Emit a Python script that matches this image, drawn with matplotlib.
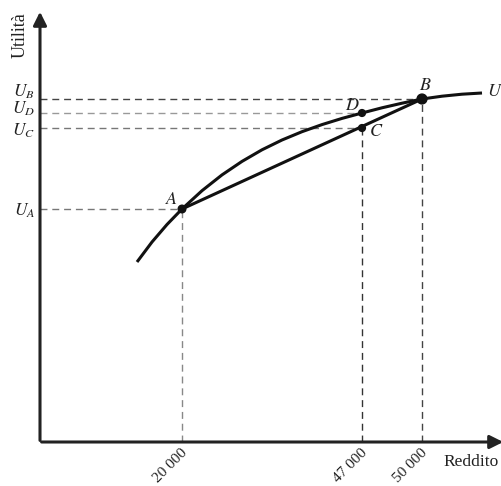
import matplotlib.pyplot as plt

plt.rcParams['mathtext.fontset'] = 'stix'
plt.rcParams['font.family'] = ['Liberation Serif', 'DejaVu Serif']

# Utility curve U (schematic units)
curve_x = [97, 112, 127, 142, 162, 182, 202, 222, 242, 262, 282, 302, 322,
           342, 362, 382, 402, 422, 442]
curve_y = [180, 200, 217.5, 233, 251.3, 267.1, 280.6, 292.2, 302.0, 310.3, 317.4, 323.6, 329,
           334.2, 338.8, 343, 345.8, 347.8, 349]

# Named points
pt_names = ['A', 'B', 'C', 'D']
pt_x = [142, 382, 322, 322]
pt_y = [233, 343, 314, 329]

# Income ticks
tick_pos = [142, 322, 382]
tick_labels = ['20 000', '47 000', '50 000']
tick_tops = [233, 314, 343]

# Utility levels on the vertical axis
u_labels = [r'$U_B$', r'$U_D$', r'$U_C$', r'$U_A$']
u_levels = [343, 329, 314, 233]
u_ends = [382, 322, 322, 142]
u_colors = ['#444444', '#999999', '#777777', '#777777']
u_shift = [2, -1, -8, -7]

fig = plt.figure(figsize=(5.02, 4.86), dpi=100)
ax = fig.add_axes([0, 0, 1, 1])
ax.set_xlim(-40, 462)
ax.set_ylim(-44, 442)
ax.axis('off')

dash = (0, (5, 3.5))
ink = '#222222'

# horizontal guides
for lab, lev, end, col, sh in zip(u_labels, u_levels, u_ends, u_colors, u_shift):
    ax.plot([0, end], [lev, lev], color=col, lw=1.0, linestyle=dash)
    ax.text(-5, lev + sh, lab, ha='right', va='baseline', fontsize=12.5, color=ink)

# vertical guides
for px, top, col in zip(tick_pos, tick_tops, ['#888888', '#333333', '#444444']):
    ax.plot([px, px], [0, top], color=col, lw=1.0, linestyle=dash)

for px, lab in zip(tick_pos, tick_labels):
    ax.text(px + 8, -4, lab, rotation=45, ha='right', va='top', fontsize=11, color=ink)

# curve and chord
ax.plot(curve_x, curve_y, color='#111111', lw=2.2, solid_capstyle='butt')
ax.plot([pt_x[0], pt_x[1]], [pt_y[0], pt_y[1]], color='#111111', lw=2.2)

ax.scatter(pt_x, pt_y, s=[30, 50, 24, 24], color='#111111', zorder=5)

offsets = {'A': (-10, 10), 'B': (3, 13), 'C': (14, -3), 'D': (-10, 7)}
for n, x, y in zip(pt_names, pt_x, pt_y):
    dx, dy = offsets[n]
    ax.text(x + dx, y + dy, '$' + n + '$', ha='center', va='center', fontsize=13, color=ink)

ax.text(455, 350, '$U$', ha='center', va='center', fontsize=13, color=ink)

# axes with arrows
ax.annotate('', xy=(0, 433), xytext=(0, -1.2),
            arrowprops=dict(arrowstyle='-|>', color=ink, lw=2.2, mutation_scale=20))
ax.annotate('', xy=(466, 0), xytext=(-1.2, 0),
            arrowprops=dict(arrowstyle='-|>', color=ink, lw=2.2, mutation_scale=20),
            annotation_clip=False)

ax.text(-20, 407, 'Utilità', rotation=90, ha='center', va='center', fontsize=13, color=ink)
ax.text(403, -20, 'Reddito', ha='left', va='center', fontsize=12.5, color=ink)

plt.savefig('out.png', dpi=100)
